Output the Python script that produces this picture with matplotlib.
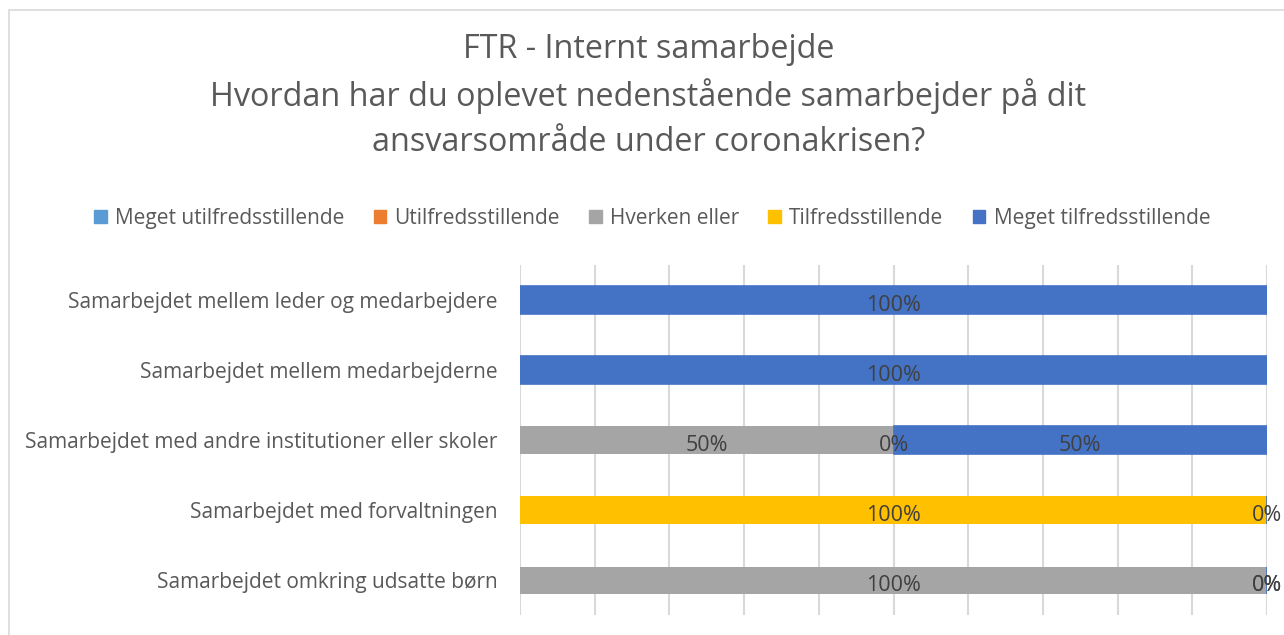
import matplotlib.pyplot as plt
import matplotlib.patches as mpatches
import numpy as np

plt.rcParams['font.family'] = ['Open Sans', 'DejaVu Sans']

categories = ['Samarbejdet mellem leder og medarbejdere',
              'Samarbejdet mellem medarbejderne',
              'Samarbejdet med andre institutioner eller skoler',
              'Samarbejdet med forvaltningen',
              'Samarbejdet omkring udsatte børn']
series = ['Meget utilfredsstillende', 'Utilfredsstillende', 'Hverken eller',
          'Tilfredsstillende', 'Meget tilfredsstillende']
colors = ['#5B9BD5', '#ED7D31', '#A5A5A5', '#FFC000', '#4472C4']

# nan = no answer in that group (no label shown)
meget_util = [np.nan, np.nan, np.nan, np.nan, np.nan]
util = [np.nan, np.nan, np.nan, np.nan, np.nan]
hverken = [np.nan, np.nan, 0.50, np.nan, 1.00]
tilfreds = [np.nan, np.nan, 0.00, 1.00, 0.00]
meget_tilfreds = [1.00, 1.00, 0.50, 0.00, 0.00]
values = [meget_util, util, hverken, tilfreds, meget_tilfreds]

fig = plt.figure(figsize=(12.84, 6.35), dpi=100)
ax = fig.add_axes([0.405, 0.031, 0.5818, 0.552])

y = np.arange(len(categories))
left = np.zeros(len(categories))
for name, vals, col in zip(series, values, colors):
    v = np.nan_to_num(np.array(vals, dtype=float))
    lw = 1.2 if name == 'Meget tilfredsstillende' else 0
    bars = ax.barh(y, v, left=left, height=0.39, color=col, edgecolor=col,
                   linewidth=lw, label=name, zorder=2)
    labels = ['' if np.isnan(x) else f'{x:.0%}' for x in vals]
    txts = ax.bar_label(bars, labels=labels, label_type='center', fontsize=15.5,
                        color='#404040', zorder=3)
    for t in txts:
        t.xyann = (0, -4)
    left += v

ax.set_xlim(0, 1)
ax.set_ylim(len(categories) - 0.5, -0.5)
ax.set_xticks(np.linspace(0, 1, 11))
ax.xaxis.grid(True, color='#d9d9d9', linewidth=1.5, zorder=0)
ax.tick_params(axis='x', length=0, labelbottom=False)
ax.tick_params(axis='y', length=0, pad=16)
ax.set_yticks(y)
ax.set_yticklabels(categories, fontsize=15, color='#595959')
for s in ax.spines.values():
    s.set_visible(False)

fig.text(0.505, 0.849, 'FTR - Internt samarbejde\n'
         'Hvordan har du oplevet nedenstående samarbejder på dit\n'
         'ansvarsområde under coronakrisen?',
         ha='center', va='center', fontsize=23.3, color='#595959',
         linespacing=1.45)

handles = [mpatches.Patch(color=c, label=s) for s, c in zip(series, colors)]
fig.legend(handles=handles, loc='center', bbox_to_anchor=(0.508, 0.656), ncol=5,
           frameon=False, fontsize=15, labelcolor='#595959',
           handlelength=0.6, handleheight=0.6, handletextpad=0.4, columnspacing=1.4)

fig.patches.append(mpatches.Rectangle((9 / 1284, -0.1), 1.2, 1 - 10 / 635 + 0.1,
                                      transform=fig.transFigure, fill=False,
                                      edgecolor='#d9d9d9', linewidth=1.2))

fig.savefig('out.png', dpi=100)
